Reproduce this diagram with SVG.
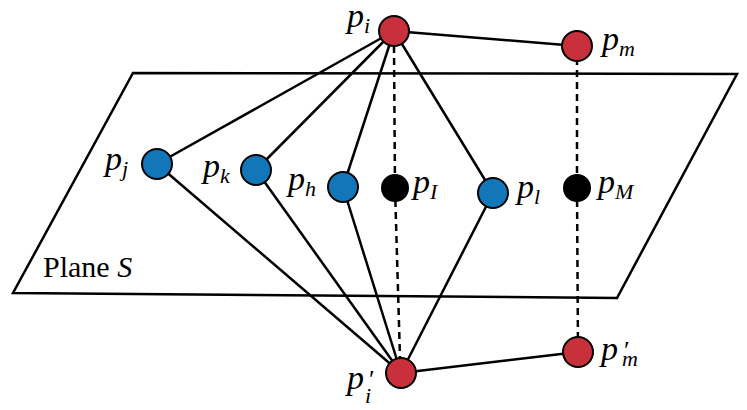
<svg xmlns="http://www.w3.org/2000/svg" width="747" height="410" viewBox="0 0 747 410">
<style>
.ln{stroke:#000;stroke-width:2.5;fill:none}
.ds{stroke:#000;stroke-width:2.5;stroke-dasharray:7,5;fill:none}
.red{fill:#c8303c;stroke:#000;stroke-width:2}
.blue{fill:#1277b8;stroke:#000;stroke-width:2}
.blk{fill:#000;stroke:#000;stroke-width:2}
.lb{font-style:italic;font-size:34px;fill:#000}
.sb{font-size:22px}
.pr{font-size:26px;font-style:normal}
.pl{font-size:30px;fill:#000}
</style>
<rect width="747" height="410" fill="#fff"/>
<polygon id="plane" class="ln" points="133,73 737,74 617,298 13,293"/>
<g font-family="Liberation Serif, Times New Roman, Tinos, serif">
<text class="pl" x="43" y="277">Plane <tspan font-style="italic">S</tspan></text>
</g>
<g id="connectors">
<line class="ln" x1="394" y1="31" x2="157" y2="164"/>
<line class="ln" x1="394" y1="31" x2="256" y2="170"/>
<line class="ln" x1="394" y1="31" x2="343" y2="187"/>
<line class="ln" x1="394" y1="31" x2="493" y2="193"/>
<line class="ln" x1="394" y1="31" x2="577" y2="46"/>
<line class="ln" x1="157" y1="164" x2="401" y2="373"/>
<line class="ln" x1="256" y1="170" x2="401" y2="373"/>
<line class="ln" x1="343" y1="187" x2="401" y2="373"/>
<line class="ln" x1="493" y1="193" x2="401" y2="373"/>
<line class="ln" x1="401" y1="373" x2="578" y2="352"/>
<line class="ds" x1="394" y1="46" x2="395" y2="188"/>
<line class="ds" x1="395" y1="188" x2="400" y2="358"/>
<line class="ds" x1="577" y1="46" x2="577" y2="188"/>
<line class="ds" x1="577" y1="188" x2="578" y2="352"/>
</g>
<g font-family="Liberation Serif, Times New Roman, Tinos, serif">
<g id="pi"><circle class="red" cx="394" cy="31" r="15"/><text class="lb" x="347" y="27">p<tspan class="sb" dy="6">i</tspan></text></g>
<g id="pm"><circle class="red" cx="577" cy="46" r="15"/><text class="lb" x="602" y="50">p<tspan class="sb" dy="6">m</tspan></text></g>
<g id="pj"><circle class="blue" cx="157" cy="164" r="15"/><text class="lb" x="105" y="170">p<tspan class="sb" dy="6">j</tspan></text></g>
<g id="pk"><circle class="blue" cx="256" cy="170" r="15"/><text class="lb" x="203" y="177">p<tspan class="sb" dy="6">k</tspan></text></g>
<g id="ph"><circle class="blue" cx="343" cy="187" r="15"/><text class="lb" x="288" y="190">p<tspan class="sb" dy="6">h</tspan></text></g>
<g id="pI"><circle class="blk" cx="395" cy="188" r="13"/><text class="lb" x="413" y="193">p<tspan class="sb" dy="6">I</tspan></text></g>
<g id="pl"><circle class="blue" cx="493" cy="193" r="15"/><text class="lb" x="517" y="198">p<tspan class="sb" dy="6">l</tspan></text></g>
<g id="pM"><circle class="blk" cx="577" cy="188" r="13"/><text class="lb" x="598" y="193">p<tspan class="sb" dy="6">M</tspan></text></g>
<g id="pi2"><circle class="red" cx="401" cy="373" r="15"/><text class="lb" x="347" y="389">p<tspan class="sb pr" x="369" y="388">′</tspan><tspan class="sb" x="365" y="403">i</tspan></text></g>
<g id="pm2"><circle class="red" cx="578" cy="352" r="15"/><text class="lb" x="601" y="360">p<tspan class="sb pr" x="624" y="359">′</tspan><tspan class="sb" x="622" y="366">m</tspan></text></g>
</g>
</svg>
